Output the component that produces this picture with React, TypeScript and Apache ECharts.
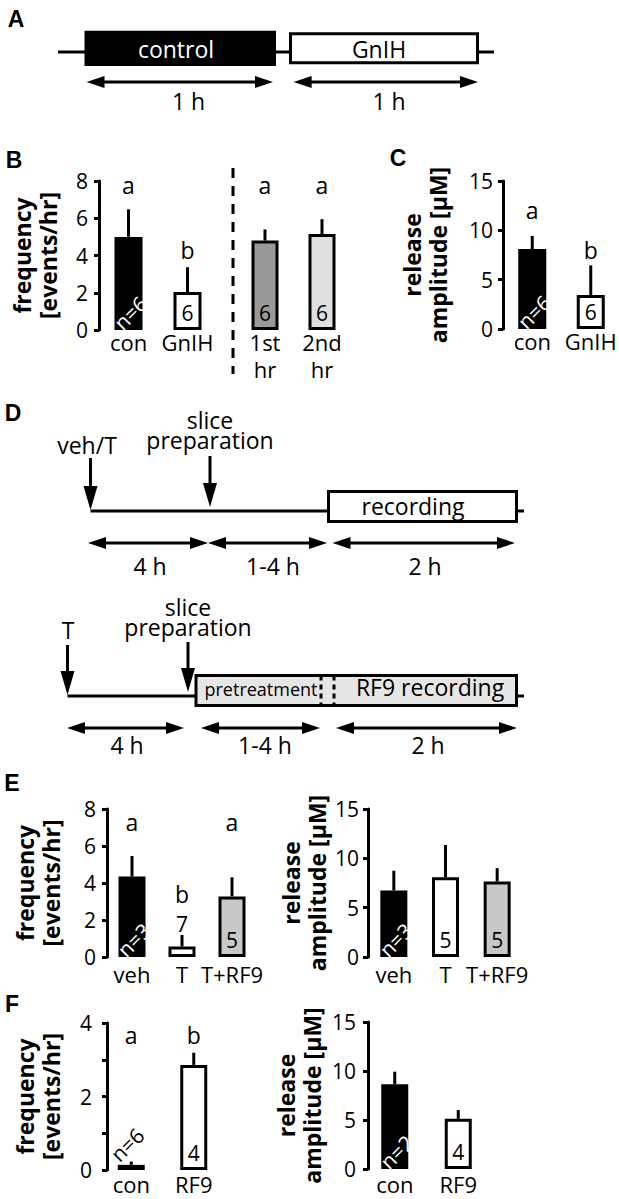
import React, { useEffect, useRef } from 'react';
import * as echarts from 'echarts';

const FONT = '"Open Sans", "Noto Sans", sans-serif';
const LETTER_FONT = '"Liberation Sans", Arial, sans-serif';

// ---------- Panel B : GnIH frequency ----------
const bCatsL = ['con', 'GnIH'];
const bValsL = [5.0, 2.04];
const bErrL = [1.48, 1.33];
const bNL = ['n=6', '6'];
const bSigL = ['a', 'b'];
const bSigYL = [7.78, 4.31];

const bCatsR = ['1st\nhr', '2nd\nhr'];
const bValsR = [4.8, 5.15];
const bErrR = [0.6, 0.8];
const bNR = ['6', '6'];
const bSigR = ['a', 'a'];
const bSigYR = [7.78, 7.78];

// ---------- Panel C : GnIH amplitude ----------
const cCats = ['con', 'GnIH'];
const cVals = [8.1, 3.45];
const cErr = [1.33, 3.0];
const cN = ['n=6', '6'];
const cSig = ['a', 'b'];
const cSigY = [12.09, 8.04];

// ---------- Panel E ----------
const eCats = ['veh', 'T', 'T+RF9'];
const eFreqVals = [4.35, 0.57, 3.27];
const eFreqErr = [1.11, 0.62, 1.04];
const eFreqN = ['n=3', '7', '5'];
const eSig = ['a', 'b', 'a'];
const eSigY = [7.31, 3.42, 7.31];
const eAmpVals = [6.74, 8.09, 7.65];
const eAmpErr = [2.0, 3.26, 1.35];
const eAmpN = ['n=3', '5', '5'];

// ---------- Panel F ----------
const fCats = ['con', 'RF9'];
const fFreqVals = [0.14, 2.86];
const fFreqErr = [0.09, 0.33];
const fFreqN = ['n=6', '4'];
const fSig = ['a', 'b'];
const fSigY = [3.68, 3.68];
const fAmpVals = [8.65, 5.12];
const fAmpErr = [1.28, 0.9];
const fAmpN = ['n=2', '4'];

// axis scales
const freqMax = 8, freqStep = 2;
const ampMax = 15, ampStep = 5;
const fFreqMax = 4, fFreqStep = 1;

const FREQ_NAME = 'frequency\n[events/hr]';
const AMP_NAME = 'release\namplitude [µM]';

// style map (by group)
const BLACK = '#000000';
const barColor: Record<string, string> = {
  con: BLACK, GnIH: '#ffffff', '1st\nhr': '#999999', '2nd\nhr': '#dfdfdf',
  veh: BLACK, T: '#ffffff', 'T+RF9': '#c8c8c8', RF9: '#ffffff',
};

function barSeries(gi: number, cats: string[], vals: number[], bw: number) {
  return {
    type: 'bar', xAxisIndex: gi, yAxisIndex: gi, barWidth: bw, z: 3,
    data: vals.map((v, i) => ({
      value: v,
      itemStyle: { color: barColor[cats[i]], borderColor: '#000', borderWidth: 3 },
    })),
  };
}

function errSeries(gi: number, vals: number[], errs: number[]) {
  return {
    type: 'custom', xAxisIndex: gi, yAxisIndex: gi, z: 1,
    data: vals.map((v, i) => [i, v, errs[i]]),
    renderItem: (params: any, api: any) => {
      const i = api.value(0), v = api.value(1), e = api.value(2);
      const p0 = api.coord([i, v]);
      const p1 = api.coord([i, v + e]);
      return { type: 'line', shape: { x1: p0[0], y1: p0[1], x2: p1[0], y2: p1[1] }, style: { stroke: '#000', lineWidth: 3 } };
    },
  };
}

function nSeries(gi: number, cats: string[], vals: number[], errs: number[], labels: string[]) {
  return {
    type: 'custom', xAxisIndex: gi, yAxisIndex: gi, z: 10,
    data: vals.map((v, i) => [i, v, errs[i]]),
    renderItem: (params: any, api: any) => {
      const i = params.dataIndex;
      const text = labels[i];
      const v = api.value(1), e = api.value(2);
      const rot = text.startsWith('n=');
      const above = v < 1;
      const base = api.coord([i, 0]);
      const top = api.coord([i, v + e]);
      let x = base[0];
      let y: number;
      if (above) { y = top[1] - (rot ? 17 : 11); if (rot) x -= 4; }
      else { y = base[1] - 17; if (rot) x += 2; }
      const white = barColor[cats[i]] === BLACK && !above;
      return {
        type: 'text', x, y, rotation: rot ? Math.PI / 4 : 0,
        style: { text, fill: white ? '#fff' : '#000', fontFamily: FONT, fontSize: 21, align: 'center', verticalAlign: 'middle' },
      };
    },
  };
}

function sigSeries(gi: number, letters: string[], ys: number[]) {
  return {
    type: 'custom', xAxisIndex: gi, yAxisIndex: gi, z: 10,
    data: ys.map((y, i) => [i, y]),
    renderItem: (params: any, api: any) => {
      const p = api.coord([api.value(0), api.value(1)]);
      return {
        type: 'text', x: p[0], y: p[1],
        style: { text: letters[params.dataIndex], fill: '#000', fontFamily: FONT, fontSize: 23, align: 'center', verticalAlign: 'middle' },
      };
    },
  };
}

function yAx(gi: number, max: number, interval: number, name: string, nameGap: number, margin: number, extra: any = {}) {
  return {
    type: 'value', gridIndex: gi, min: 0, max, interval,
    name, nameLocation: 'middle', nameGap, nameRotate: 90, nameMoveOverlap: false,
    nameTextStyle: { fontFamily: FONT, fontSize: 23, fontWeight: 'bold', color: '#000', lineHeight: 26 },
    axisLine: { show: true, lineStyle: { color: '#000', width: 3 } },
    axisTick: { show: true, length: 5, lineStyle: { color: '#000', width: 3 } },
    axisLabel: { fontFamily: FONT, fontSize: 21, color: '#000', margin },
    splitLine: { show: false },
    ...extra,
  };
}

function xAx(gi: number, data: string[], margin: number, lineHeight = 27) {
  return {
    type: 'category', gridIndex: gi, data,
    axisLine: { show: false }, axisTick: { show: false }, splitLine: { show: false },
    axisLabel: { fontFamily: FONT, fontSize: 22, color: '#000', margin, lineHeight, interval: 0 },
  };
}

function buildGraphics() {
  const g: any[] = [];
  const T = (text: string, x: number, y: number, o: any = {}) =>
    g.push({ type: 'text', x, y, z: 20, style: { text, fill: '#000', fontFamily: FONT, fontSize: 23, align: 'center', verticalAlign: 'middle', ...o } });
  const L = (x1: number, y1: number, x2: number, y2: number, o: any = {}) =>
    g.push({ type: 'line', z: 15, shape: { x1, y1, x2, y2 }, style: { stroke: '#000', lineWidth: 3, ...o } });
  const P = (points: number[][]) => g.push({ type: 'polygon', z: 16, shape: { points }, style: { fill: '#000' } });
  const R = (x: number, y: number, width: number, height: number, fill: string, stroke?: string) =>
    g.push({ type: 'rect', z: 17, shape: { x, y, width, height }, style: { fill, stroke: stroke || null, lineWidth: stroke ? 3 : 0 } });
  const HL = 18, HW = 6;
  const hArrow = (x1: number, x2: number, y: number) => {
    L(x1 + HL - 2, y, x2 - HL + 2, y);
    P([[x1, y], [x1 + HL, y - HW], [x1 + HL, y + HW]]);
    P([[x2, y], [x2 - HL, y - HW], [x2 - HL, y + HW]]);
  };
  const VL = 24, VW = 7;
  const vArrow = (x: number, y1: number, y2: number) => {
    L(x, y1, x, y2 - VL + 2);
    P([[x, y2], [x - VW, y2 - VL], [x + VW, y2 - VL]]);
  };
  const letter = (t: string, x: number, y: number) => T(t, x, y, { fontFamily: LETTER_FONT, fontWeight: 'bold', fontSize: 23 });

  // Panel letters
  letter('A', 16, 19);
  letter('B', 14, 160);
  letter('C', 398, 158);
  letter('D', 13, 413);
  letter('E', 12, 783);
  letter('F', 12, 1004);

  // Panel A
  L(58, 52, 86, 52);
  L(275, 52, 291, 52);
  L(478, 52, 494, 52);
  R(84.5, 30.7, 191.5, 35.3, '#000');
  R(290.5, 33.8, 187, 29, '#fff', '#000');
  T('control', 176, 48.5, { fill: '#fff' });
  T('GnIH', 379, 48.5);
  hArrow(86.5, 273, 82);
  hArrow(293.6, 478, 82);
  T('1 h', 188.5, 101);
  T('1 h', 389, 101);

  // Panel B dashed separator
  L(233, 168, 233, 374, { lineDash: [10, 8] });

  // Panel D - first protocol
  T('veh/T', 87, 445);
  T('slice\npreparation', 210, 430, { lineHeight: 20 });
  vArrow(90.5, 458, 510);
  vArrow(210, 456, 507);
  L(90.5, 511, 328, 511);
  R(328.5, 491.5, 188, 30, '#fff', '#000');
  T('recording', 413, 505.5);
  L(518, 511, 524, 511);
  hArrow(88, 208, 543);
  hArrow(208, 327, 543);
  hArrow(332.5, 515, 543);
  T('4 h', 150, 566);
  T('1-4 h', 273, 566);
  T('2 h', 425, 566);

  // Panel D - second protocol
  T('T', 68, 630);
  T('slice\npreparation', 188, 616.5, { lineHeight: 20 });
  vArrow(67.5, 645, 695);
  vArrow(188, 642, 692);
  L(67.5, 696, 196, 696);
  R(196, 675.5, 320.5, 30, '#e6e6e6', '#000');
  g.push({ type: 'line', z: 18, shape: { x1: 321, y1: 675.5, x2: 321, y2: 705.5 }, style: { stroke: '#000', lineWidth: 3, lineDash: [5, 4] } });
  g.push({ type: 'line', z: 18, shape: { x1: 334, y1: 675.5, x2: 334, y2: 705.5 }, style: { stroke: '#000', lineWidth: 3, lineDash: [5, 4] } });
  T('pretreatment', 261, 688.5, { fontSize: 18 });
  T('RF9 recording', 430, 687);
  L(518, 696, 524, 696);
  hArrow(67, 184, 728);
  hArrow(201, 320, 728);
  hArrow(336, 517, 728);
  T('4 h', 127, 745);
  T('1-4 h', 265, 745);
  T('2 h', 428, 745);
  return g;
}

function buildOption() {
  const noBounds = { outerBoundsMode: 'none', containLabel: false };
  return {
    animation: false,
    backgroundColor: '#fff',
    textStyle: { fontFamily: FONT },
    grid: [
      { left: 99, top: 181, width: 118, height: 149, ...noBounds },
      { left: 236.5, top: 181, width: 114, height: 149, ...noBounds },
      { left: 503, top: 181, width: 117, height: 148, ...noBounds },
      { left: 107, top: 809, width: 150, height: 148, ...noBounds },
      { left: 368, top: 809, width: 155, height: 148, ...noBounds },
      { left: 100, top: 1023, width: 125, height: 147, ...noBounds },
      { left: 363, top: 1022, width: 127, height: 147, ...noBounds },
    ],
    xAxis: [
      xAx(0, bCatsL, -2),
      xAx(1, bCatsR, -2),
      xAx(2, cCats, -2),
      xAx(3, eCats, 3),
      xAx(4, eCats, 3),
      xAx(5, fCats, 3, 22),
      xAx(6, fCats, 4, 22),
    ],
    yAxis: [
      yAx(0, freqMax, freqStep, FREQ_NAME, 38, 11),
      { type: 'value', gridIndex: 1, min: 0, max: freqMax, interval: freqStep, show: false },
      yAx(2, ampMax, ampStep, AMP_NAME, 52, 10),
      yAx(3, freqMax, freqStep, FREQ_NAME, 43, 11),
      yAx(4, ampMax, ampStep, AMP_NAME, 38, 9),
      yAx(5, fFreqMax, fFreqStep, FREQ_NAME, 43, 15, {
        offset: -7,
        axisLabel: { fontFamily: FONT, fontSize: 21, color: '#000', margin: 15, formatter: (v: number) => (v % 2 === 0 ? String(v) : '') },
      }),
      yAx(6, ampMax, ampStep, AMP_NAME, 43, 12, { offset: -5 }),
    ],
    series: [
      barSeries(0, bCatsL, bValsL, 28), errSeries(0, bValsL, bErrL), nSeries(0, bCatsL, bValsL, bErrL, bNL), sigSeries(0, bSigL, bSigYL),
      barSeries(1, bCatsR, bValsR, 27), errSeries(1, bValsR, bErrR), nSeries(1, bCatsR, bValsR, bErrR, bNR), sigSeries(1, bSigR, bSigYR),
      barSeries(2, cCats, cVals, 28), errSeries(2, cVals, cErr), nSeries(2, cCats, cVals, cErr, cN), sigSeries(2, cSig, cSigY),
      barSeries(3, eCats, eFreqVals, 27), errSeries(3, eFreqVals, eFreqErr), nSeries(3, eCats, eFreqVals, eFreqErr, eFreqN), sigSeries(3, eSig, eSigY),
      barSeries(4, eCats, eAmpVals, 27), errSeries(4, eAmpVals, eAmpErr), nSeries(4, eCats, eAmpVals, eAmpErr, eAmpN),
      barSeries(5, fCats, fFreqVals, 27), errSeries(5, fFreqVals, fFreqErr), nSeries(5, fCats, fFreqVals, fFreqErr, fFreqN), sigSeries(5, fSig, fSigY),
      barSeries(6, fCats, fAmpVals, 27), errSeries(6, fAmpVals, fAmpErr), nSeries(6, fCats, fAmpVals, fAmpErr, fAmpN),
    ],
    graphic: buildGraphics(),
  };
}

export default function App() {
  const ref = useRef<HTMLDivElement>(null);
  useEffect(() => {
    const chart = echarts.init(ref.current as HTMLDivElement, null, { renderer: 'svg' });
    chart.setOption(buildOption() as any);
    return () => chart.dispose();
  }, []);
  return (
    <div
      ref={ref}
      style={{ position: 'absolute', left: 0, top: 0, width: 619, height: 1199, background: '#fff' }}
    />
  );
}
